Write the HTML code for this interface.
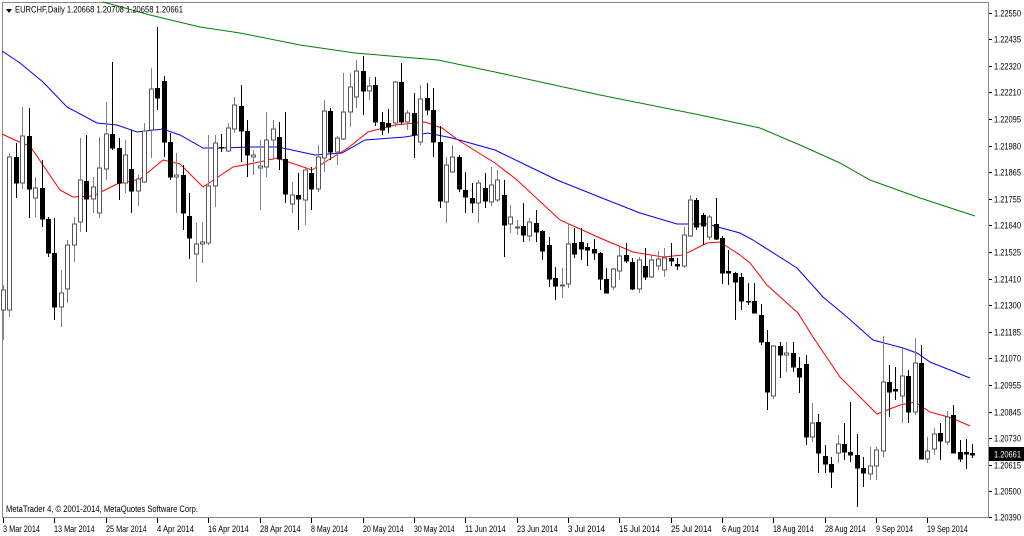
<!DOCTYPE html>
<html><head><meta charset="utf-8"><style>
body{margin:0;background:#fff;width:1024px;height:536px;overflow:hidden}
svg{display:block;font-family:"Liberation Sans",sans-serif}
</style></head><body>
<svg id="s" width="1024" height="536" xmlns="http://www.w3.org/2000/svg">
<rect width="1024" height="536" fill="#fff"/>
<line x1="2.5" y1="2" x2="2.5" y2="518" stroke="#888" stroke-width="1"/>
<line x1="2" y1="2.5" x2="989" y2="2.5" stroke="#888"/>
<line x1="988.5" y1="2" x2="988.5" y2="518" stroke="#888"/>
<line x1="2" y1="517.5" x2="989" y2="517.5" stroke="#888"/>
<g id="g"></g>
<polygon points="6,9 12,9 9,13" fill="#000"/>
<text x="15" y="12.5" font-size="9" fill="#000" textLength="168" lengthAdjust="spacingAndGlyphs">EURCHF,Daily  1.20668 1.20708 1.20658 1.20661</text>
<text x="6" y="512" font-size="9" fill="#000" textLength="192" lengthAdjust="spacingAndGlyphs">MetaTrader 4, © 2001-2014, MetaQuotes Software Corp.</text>
</svg>
<script>
var g=document.getElementById('g'),h='';
var C=[
['u',290,310,285,340],['u',157,310,153,317],['d',157,183,143,198],['u',136,183,107,189],['d',136,189,108,218],
['u',188,198,177,217],['d',188,219,160,227],['d',219,253,217,257],['d',253,307,218,320],['u',293,307,270,327],
['u',245,289,240,303],['u',224,245,217,262],['u',180,222,138,232],['d',181,199,135,232],['u',187,199,177,213],
['u',168,213,137,218],['u',134,169,102,180],['d',134,148,62,150],['d',148,183,138,200],['u',155,183,140,193],
['d',169,191,130,213],['u',179,191,175,206],['u',131,182,123,183],['u',89,130,68,158],['d',88,98,27,110],
['d',81,142,76,157],['d',142,177,133,180],['u',175,177,153,213],['d',175,213,165,230],['d',216,238,193,259],
['u',244,254,223,282],['u',242,244,222,263],['u',186,243,135,245],['u',143,186,135,207],['d',147,148,134,152],
['u',128,151,123,152],['u',105,129,97,133],['d',106,131,85,162],['d',131,155,120,177],['u',155,157,150,175],
['u',166,168,140,210],['u',140,167,112,177],['u',129,140,120,160],['d',137,159,122,170],['d',159,194,112,203],
['u',195,204,182,213],['d',195,199,173,230],['u',170,200,168,225],['d',173,189,167,210],['u',157,189,145,192],
['u',111,158,100,172],['d',111,152,108,160],['u',138,152,136,165],['u',112,139,73,140],['u',87,112,73,127],
['u',71,97,60,108],['d',71,91,56,115],['u',86,91,77,100],['d',85,122,77,126],['d',122,130,112,135],
['d',123,127,109,133],['u',82,123,81,127],['d',82,122,63,125],['u',113,122,110,130],['d',113,135,93,158],
['u',99,142,85,145],['d',98,110,83,115],['d',110,142,88,157],['d',142,201,126,208],['u',165,202,157,223],
['u',157,172,145,173],['d',157,189,155,192],['d',190,197,172,213],['d',198,203,183,213],['u',183,203,180,223],
['d',188,201,173,208],['u',185,202,167,206],['u',180,200,170,202],['d',195,225,180,257],['u',217,224,205,233],
['u',227,228,220,235],['d',226,235,203,242],['u',222,236,218,241],['d',223,232,210,242],['d',231,251,230,260],
['d',245,279,237,287],['d',278,286,267,300],['u',285,286,268,298],['u',244,284,223,288],['d',243,254,228,258],
['d',242,249,228,260],['d',247,250,243,266],['d',249,253,239,260],['d',253,279,252,290],['d',279,293,268,293],
['u',269,287,268,290],['u',256,271,247,280],['d',255,261,243,263],['d',262,289,258,290],['u',260,289,257,293],
['d',266,277,248,280],['u',260,277,255,278],['u',259,266,251,270],['u',258,270,248,277],['d',258,261,243,266],
['d',264,266,258,270],['u',235,266,227,268],['u',200,236,195,237],['d',200,227,198,230],['d',215,226,213,245],
['u',217,237,215,240],['d',224,239,198,240],['d',238,273,236,284],['d',271,273,250,285],['d',273,282,272,320],
['d',277,301,273,310],['d',301,302,283,305],['d',301,313,283,313],['d',315,342,304,345],['d',342,392,330,410],
['u',346,396,345,399],['d',346,355,342,378],['u',353,355,342,372],['d',353,367,342,372],['d',368,377,357,393],
['d',364,437,355,445],['u',423,437,403,442],['d',422,453,414,473],['d',456,464,445,473],['d',464,472,457,488],
['u',444,453,435,463],['d',444,452,423,460],['d',452,455,402,462],['d',455,468,434,507],['d',468,473,457,487],
['u',466,474,447,480],['u',450,466,447,480],['u',382,451,336,457],['d',382,392,365,417],['d',389,391,367,400],
['u',376,396,348,423],['d',376,412,370,423],['u',363,412,338,415],['d',363,459,345,459],['u',451,459,437,463],
['u',434,449,428,455],['d',433,441,423,460],['u',417,442,411,445],['d',415,453,405,453],['d',452,459,440,462],
['d',452,454,439,469],['d',453,455,444,458]];
function L(p,c){return '<polyline fill="none" stroke="'+c+'" stroke-width="1" points="'+p+'"/>';}
h+=L('103,2 150,15 200,27 240,33 300,45 355,53 438,60 495,72 600,95 700,115 760,128 800,145 840,163 870,180 920,198 975,216','#008000');
h+=L('2,51 20,63 43,82 67,107 97,123 117,125 137,132 163,129 180,135 203,148 223,148 250,147 278,147 315,155 342,153 365,140 405,137 428,133 452,138 495,150 530,167 557,180 607,200 640,213 677,224 707,224 740,233 753,240 797,268 823,297 847,317 873,340 903,348 917,353 930,362 970,378','#0000ff');
h+=L('2,134 17,141 30,146 60,190 73,197 93,196 117,184 140,179 163,160 180,164 203,187 233,167 250,164 277,158 312,170 325,162 348,148 368,132 395,125 425,122 442,128 458,140 495,163 517,180 560,220 600,238 633,252 663,257 683,255 707,243 720,242 740,255 750,263 767,285 798,313 813,337 840,377 877,414 900,405 915,402 930,412 952,418 970,426','#ff0000');
for(var i=0;i<C.length;i++){var c=C[i],x=Math.round(3+6.42*i)+0.5,u=c[0]=='u';
 var col=u?'#808080':'#000';
 h+='<line x1="'+x+'" y1="'+c[3]+'" x2="'+x+'" y2="'+c[4]+'" stroke="'+col+'"/>';
 var ht=Math.max(1,c[2]-c[1]);
 if(u)h+='<rect x="'+(x-2)+'" y="'+c[1]+'" width="4" height="'+ht+'" fill="#fff" stroke="#555"/>';
 else h+='<rect x="'+(x-2.5)+'" y="'+c[1]+'" width="5" height="'+(ht+0.5)+'" fill="#000"/>';}
var P=['1.22550','1.22435','1.22320','1.22210','1.22095','1.21980','1.21865','1.21755','1.21640','1.21525','1.21410','1.21300','1.21185','1.21070','1.20955','1.20845','1.20730','1.20615','1.20500','1.20390'];
for(var k=0;k<P.length;k++){var y=k<19?Math.round(12.5+26.6*k):517;
 h+='<line x1="989" y1="'+(y+0.5)+'" x2="992" y2="'+(y+0.5)+'" stroke="#000"/>';
 h+='<text x="994" y="'+(y+3.5)+'" font-size="9" fill="#000" textLength="27" lengthAdjust="spacingAndGlyphs">'+P[k]+'</text>';}
h+='<rect x="989" y="447" width="35" height="14" fill="#000"/><text x="994" y="457.5" font-size="9" fill="#fff" textLength="27" lengthAdjust="spacingAndGlyphs">1.20661</text>';
var D=['3 Mar 2014','13 Mar 2014','25 Mar 2014','4 Apr 2014','16 Apr 2014','28 Apr 2014','8 May 2014','20 May 2014','30 May 2014','11 Jun 2014','23 Jun 2014','3 Jul 2014','15 Jul 2014','25 Jul 2014','6 Aug 2014','18 Aug 2014','28 Aug 2014','9 Sep 2014','19 Sep 2014'];
for(var k=0;k<D.length;k++){var x=Math.round(3+51.36*k)+0.5;
 h+='<line x1="'+x+'" y1="518" x2="'+x+'" y2="523" stroke="#000"/>';
 h+='<text x="'+(x-0.5)+'" y="532" font-size="9" fill="#000" textLength="'+(D[k].length*3.7)+'" lengthAdjust="spacingAndGlyphs">'+D[k]+'</text>';}
g.innerHTML=h;
</script>
</body></html>
